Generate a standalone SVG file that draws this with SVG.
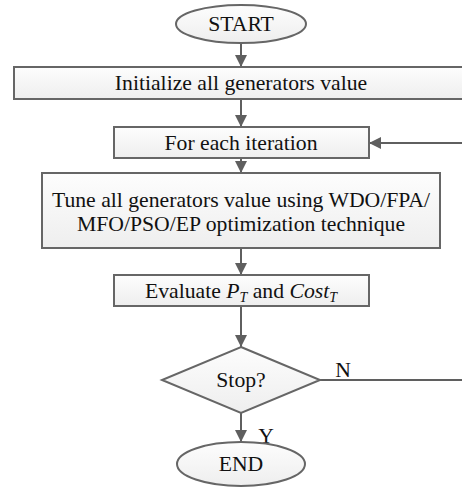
<svg xmlns="http://www.w3.org/2000/svg" width="462" height="501" viewBox="0 0 462 501">
<defs>
<linearGradient id="g" x1="0" y1="0" x2="0" y2="1">
<stop offset="0" stop-color="#fdfdfd"/>
<stop offset="1" stop-color="#eeeeee"/>
</linearGradient>
<marker id="ah" viewBox="0 0 10 10" refX="10" refY="5" markerWidth="12" markerHeight="12" markerUnits="userSpaceOnUse" orient="auto">
<path d="M0,0 L10,5 L0,10 Z" fill="#5f5f5f"/>
</marker>
</defs>
<style>
.n{fill:url(#g);stroke:#666;stroke-width:2}
.t{font-family:"Liberation Serif","Times New Roman",serif;font-size:21.7px;fill:#111;text-anchor:middle}
.c{fill:none;stroke:#5f5f5f;stroke-width:2}
</style>
<g id="connectors">
<line class="c" x1="241" y1="43" x2="241" y2="67" marker-end="url(#ah)"/>
<line class="c" x1="241" y1="99" x2="241" y2="127" marker-end="url(#ah)"/>
<line class="c" x1="241" y1="158" x2="241" y2="173" marker-end="url(#ah)"/>
<line class="c" x1="241" y1="248" x2="241" y2="275" marker-end="url(#ah)"/>
<line class="c" x1="241" y1="306" x2="241" y2="347" marker-end="url(#ah)"/>
<line class="c" x1="241" y1="405" x2="241" y2="442" marker-end="url(#ah)"/>
<line class="c" x1="320" y1="380" x2="470" y2="380"/>
<line class="c" x1="470" y1="143" x2="369" y2="143" marker-end="url(#ah)"/>
<text class="t" x="343" y="377">N</text>
<text class="t" x="266" y="443">Y</text>
</g>
<g id="start">
<ellipse class="n" cx="241" cy="24" rx="65" ry="19"/>
<text class="t" x="241" y="31">START</text>
</g>
<g id="init">
<rect class="n" x="14" y="67" width="470" height="32"/>
<text class="t" x="241" y="90">Initialize all generators value</text>
</g>
<g id="iter">
<rect class="n" x="114" y="127" width="255" height="31"/>
<text class="t" x="241" y="150">For each iteration</text>
</g>
<g id="tune">
<rect class="n" x="42" y="173" width="398" height="75"/>
<text class="t" x="241" y="207">Tune all generators value using WDO/FPA/</text>
<text class="t" x="241" y="231">MFO/PSO/EP optimization technique</text>
</g>
<g id="eval">
<rect class="n" x="114" y="275" width="255" height="31"/>
<text class="t" x="241" y="298">Evaluate <tspan font-style="italic">P</tspan><tspan font-style="italic" font-size="14" dy="4">T</tspan><tspan dy="-4"> and </tspan><tspan font-style="italic">Cost</tspan><tspan font-style="italic" font-size="14" dy="4">T</tspan></text>
</g>
<g id="stop">
<polygon class="n" points="241,347 320,380 241,413 162,380"/>
<text class="t" x="241" y="387">Stop?</text>
</g>
<g id="end">
<ellipse class="n" cx="241" cy="464" rx="64" ry="22"/>
<text class="t" x="241" y="471">END</text>
</g>
</svg>
